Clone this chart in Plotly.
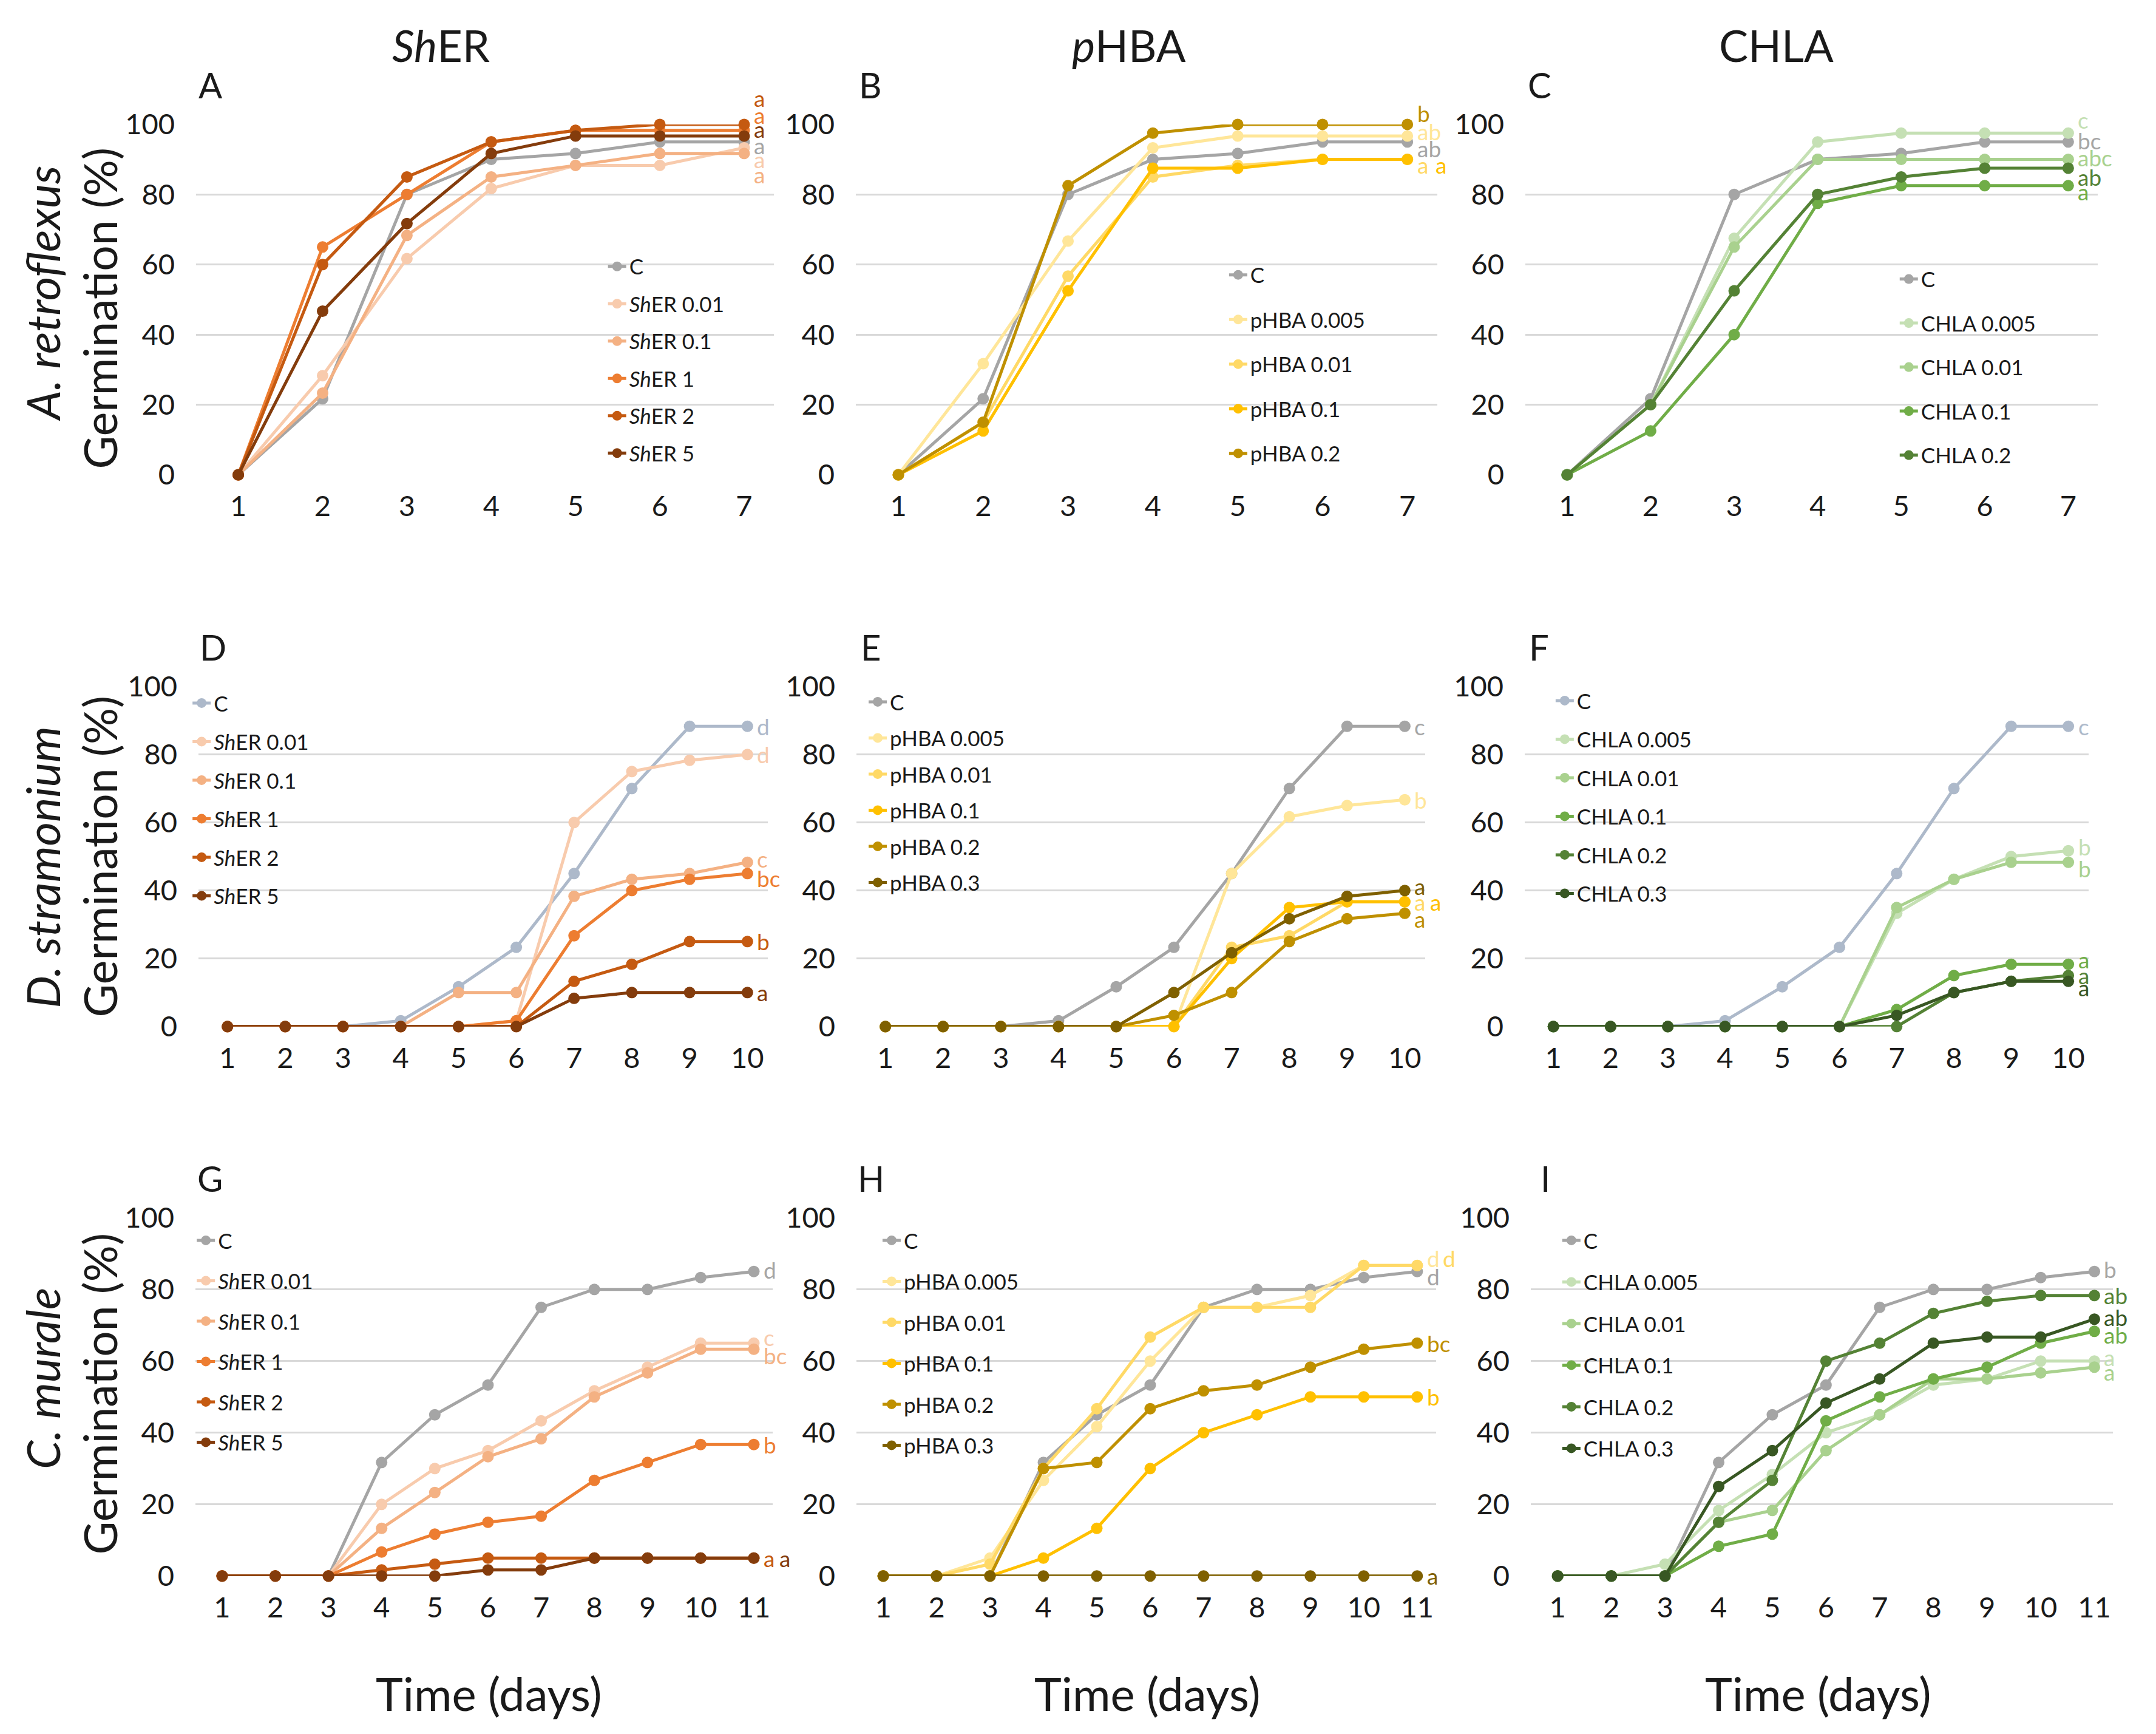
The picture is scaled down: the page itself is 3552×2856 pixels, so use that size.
import plotly.graph_objects as go

W, H = 3552, 2856
FONT = "Lato"
INK = "#1a1a1a"

# ---- data -------------------------------------------------------------
DAYS_7 = [1, 2, 3, 4, 5, 6, 7]
DAYS_10 = [1, 2, 3, 4, 5, 6, 7, 8, 9, 10]
DAYS_11 = [1, 2, 3, 4, 5, 6, 7, 8, 9, 10, 11]

SHER_NAMES = ["C", "<i>Sh</i>ER 0.01", "<i>Sh</i>ER 0.1", "<i>Sh</i>ER 1",
              "<i>Sh</i>ER 2", "<i>Sh</i>ER 5"]
PHBA_NAMES_B = ["C", "pHBA 0.005", "pHBA 0.01", "pHBA 0.1", "pHBA 0.2"]
PHBA_NAMES = ["C", "pHBA 0.005", "pHBA 0.01", "pHBA 0.1", "pHBA 0.2", "pHBA 0.3"]
CHLA_NAMES_C = ["C", "CHLA 0.005", "CHLA 0.01", "CHLA 0.1", "CHLA 0.2"]
CHLA_NAMES = ["C", "CHLA 0.005", "CHLA 0.01", "CHLA 0.1", "CHLA 0.2", "CHLA 0.3"]

SHER_COLORS = ["#A5A5A5", "#F8CBAD", "#F4B183", "#ED7D31", "#C55A11", "#843C0C"]
PHBA_COLORS = ["#A5A5A5", "#FFE699", "#FFD966", "#FFC000", "#BF9000", "#7F6000"]
CHLA_COLORS = ["#A5A5A5", "#C5E0B4", "#A9D18E", "#70AD47", "#548235", "#385723"]
BLUEGREY_C = "#ADB9CA"

# A. retroflexus, germination (%), series in name-list order
A_SHER = [
    [0, 21.7, 80, 90, 91.7, 95, 95],
    [0, 28.3, 61.7, 81.7, 88.3, 88.3, 93.3],
    [0, 23.3, 68.3, 85, 88.3, 91.7, 91.7],
    [0, 65, 80, 95, 98.3, 98.3, 98.3],
    [0, 60, 85, 95, 98.3, 100, 100],
    [0, 46.7, 71.7, 91.7, 96.7, 96.7, 96.7],
]
B_PHBA = [
    [0, 21.7, 80, 90, 91.7, 95, 95],
    [0, 31.7, 66.7, 93.3, 96.7, 96.7, 96.7],
    [0, 15, 56.7, 85, 88.3, 90, 90],
    [0, 12.5, 52.5, 87.5, 87.5, 90, 90],
    [0, 15, 82.5, 97.5, 100, 100, 100],
]
C_CHLA = [
    [0, 21.7, 80, 90, 91.7, 95, 95],
    [0, 20, 67.5, 95, 97.5, 97.5, 97.5],
    [0, 20, 65, 90, 90, 90, 90],
    [0, 12.5, 40, 77.5, 82.5, 82.5, 82.5],
    [0, 20, 52.5, 80, 85, 87.5, 87.5],
]
# D. stramonium
D_SHER = [
    [0, 0, 0, 1.7, 11.7, 23.3, 45, 70, 88.3, 88.3],
    [0, 0, 0, 0, 0, 1.7, 60, 75, 78.3, 80],
    [0, 0, 0, 0, 10, 10, 38.3, 43.3, 45, 48.3],
    [0, 0, 0, 0, 0, 1.7, 26.7, 40, 43.3, 45],
    [0, 0, 0, 0, 0, 0, 13.3, 18.3, 25, 25],
    [0, 0, 0, 0, 0, 0, 8.3, 10, 10, 10],
]
E_PHBA = [
    [0, 0, 0, 1.7, 11.7, 23.3, 45, 70, 88.3, 88.3],
    [0, 0, 0, 0, 0, 0, 45, 61.7, 65, 66.7],
    [0, 0, 0, 0, 0, 0, 23.3, 26.7, 36.7, 36.7],
    [0, 0, 0, 0, 0, 0, 20, 35, 36.7, 36.7],
    [0, 0, 0, 0, 0, 3.3, 10, 25, 31.7, 33.3],
    [0, 0, 0, 0, 0, 10, 21.7, 31.7, 38.3, 40],
]
F_CHLA = [
    [0, 0, 0, 1.7, 11.7, 23.3, 45, 70, 88.3, 88.3],
    [0, 0, 0, 0, 0, 0, 33.3, 43.3, 50, 51.7],
    [0, 0, 0, 0, 0, 0, 35, 43.3, 48.3, 48.3],
    [0, 0, 0, 0, 0, 0, 5, 15, 18.3, 18.3],
    [0, 0, 0, 0, 0, 0, 0, 10, 13.3, 15],
    [0, 0, 0, 0, 0, 0, 3.3, 10, 13.3, 13.3],
]
# C. murale
G_SHER = [
    [0, 0, 0, 31.7, 45, 53.3, 75, 80, 80, 83.3, 85],
    [0, 0, 0, 20, 30, 35, 43.3, 51.7, 58.3, 65, 65],
    [0, 0, 0, 13.3, 23.3, 33.3, 38.3, 50, 56.7, 63.3, 63.3],
    [0, 0, 0, 6.7, 11.7, 15, 16.7, 26.7, 31.7, 36.7, 36.7],
    [0, 0, 0, 1.7, 3.3, 5, 5, 5, 5, 5, 5],
    [0, 0, 0, 0, 0, 1.7, 1.7, 5, 5, 5, 5],
]
H_PHBA = [
    [0, 0, 0, 31.7, 45, 53.3, 75, 80, 80, 83.3, 85],
    [0, 0, 5, 26.7, 41.7, 60, 75, 75, 78.3, 86.7, 86.7],
    [0, 0, 3.3, 30, 46.7, 66.7, 75, 75, 75, 86.7, 86.7],
    [0, 0, 0, 5, 13.3, 30, 40, 45, 50, 50, 50],
    [0, 0, 0, 30, 31.7, 46.7, 51.7, 53.3, 58.3, 63.3, 65],
    [0, 0, 0, 0, 0, 0, 0, 0, 0, 0, 0],
]
I_CHLA = [
    [0, 0, 0, 31.7, 45, 53.3, 75, 80, 80, 83.3, 85],
    [0, 0, 3.3, 18.3, 28.3, 40, 45, 53.3, 55, 60, 60],
    [0, 0, 0, 15, 18.3, 35, 45, 55, 55, 56.7, 58.3],
    [0, 0, 0, 8.3, 11.7, 43.3, 50, 55, 58.3, 65, 68.3],
    [0, 0, 0, 15, 26.7, 60, 65, 73.3, 76.7, 78.3, 78.3],
    [0, 0, 0, 25, 35, 48.3, 55, 65, 66.7, 66.7, 71.7],
]

# significance letters at the last day, same order as the series
A_LETTERS = ["a", "a", "a", "a", "a", "a"]
B_LETTERS = ["ab", "ab", "a", "a", "b"]
C_LETTERS = ["bc", "c", "abc", "a", "ab"]
D_LETTERS = ["d", "d", "c", "bc", "b", "a"]
E_LETTERS = ["c", "b", "a", "a", "a", "a"]
F_LETTERS = ["c", "b", "b", "a", "a", "a"]
G_LETTERS = ["d", "c", "bc", "b", "a", "a"]
H_LETTERS = ["d", "d", "d", "b", "bc", "a"]
I_LETTERS = ["b", "a", "a", "ab", "ab", "ab"]

# ---- layout (page pixels) ---------------------------------------------
BOX_ROW1 = (200, 781)
BOX_ROW2 = (1132, 1696)
BOX_ROW3 = (2013, 2607)

# letter nudges (dx, dy) in px, per series
NUDGE = {
    "A": [(0, -6), (0, -19), (0, -35), (0, 25), (0, 43), (0, 11)],
    "B": [(0, -11), (0, 7), (0, -9), (30, -9), (0, 18)],
    "C": [(0, 2), (0, 22), (0, 3), (0, -10), (0, -14)],
    "D": [(0, 0), (0, 0), (0, 6), (0, -8), (0, 0), (0, 0)],
    "E": [(0, 0), (0, 0), (0, 0), (26, 0), (0, -9), (0, 7)],
    "F": [(0, 0), (0, 7), (0, -10), (0, 8), (0, 0), (0, -10)],
    "G": [(0, 3), (0, 10), (0, -10), (0, 0), (0, 0), (26, 0)],
    "H": [(0, -8), (0, 12), (26, 12), (0, 0), (0, 0), (0, 0)],
    "I": [(0, 4), (0, 6), (0, -8), (0, -6), (0, 0), (0, 3)],
}

PANELS = [
    # key, values, days, names, colors, letters, x-box, y-box, legend (x, first-item y, gap)
    ("A", A_SHER, DAYS_7, SHER_NAMES, SHER_COLORS, A_LETTERS, (324, 1279), BOX_ROW1, (1000, 437, 13)),
    ("B", B_PHBA, DAYS_7, PHBA_NAMES_B, PHBA_COLORS[:5], B_LETTERS, (1415, 2376), BOX_ROW1, (2027, 451, 25)),
    ("C", C_CHLA, DAYS_7, CHLA_NAMES_C, CHLA_COLORS[:5], C_LETTERS, (2522, 3468), BOX_ROW1, (3136, 458, 24)),
    ("D", D_SHER, DAYS_10, SHER_NAMES, [BLUEGREY_C] + SHER_COLORS[1:], D_LETTERS, (328, 1269), BOX_ROW2, (313, 1161, 15)),
    ("E", E_PHBA, DAYS_10, PHBA_NAMES, PHBA_COLORS, E_LETTERS, (1416, 2356), BOX_ROW2, (1431, 1159, 11)),
    ("F", F_CHLA, DAYS_10, CHLA_NAMES, [BLUEGREY_C] + CHLA_COLORS[1:], F_LETTERS, (2521, 3453), BOX_ROW2, (2567, 1157, 15)),
    ("G", G_SHER, DAYS_11, SHER_NAMES, SHER_COLORS, G_LETTERS, (323, 1277), BOX_ROW3, (320, 2052, 18)),
    ("H", H_PHBA, DAYS_11, PHBA_NAMES, PHBA_COLORS, H_LETTERS, (1416, 2374), BOX_ROW3, (1454, 2052, 19)),
    ("I", I_CHLA, DAYS_11, CHLA_NAMES, CHLA_COLORS, I_LETTERS, (2531, 3494), BOX_ROW3, (2578, 2052, 20)),
]


# page px -> paper, with a small calibration of the rendered page
def px_x(v):
    return ((v - 7.7) / 1.0037) / W


def px_y(v):
    return 1 - ((v - 32) / 0.987) / H


fig = go.Figure()
annotations = []
layout = {}

for k, (key, values, days, names, colors, letters, xbox, ybox, leg) in enumerate(PANELS, start=1):
    sfx = "" if k == 1 else str(k)
    legname = "legend" if k == 1 else f"legend{k}"
    for i, (name, series, col) in enumerate(zip(names, values, colors)):
        fig.add_trace(go.Scatter(
            x=days, y=series, name=name, mode="lines+markers",
            line=dict(color=col, width=5),
            marker=dict(color=col, size=19),
            xaxis=f"x{sfx}", yaxis=f"y{sfx}",
            legend=legname, legendgroup=f"{key}{i}",
            cliponaxis=False, hoverinfo="skip",
        ))
        dx, dy = NUDGE[key][i]
        annotations.append(dict(
            x=days[-1], y=series[-1], xref=f"x{sfx}", yref=f"y{sfx}",
            text=letters[i], showarrow=False, xanchor="left", yanchor="middle",
            xshift=14 + dx, yshift=dy,
            font=dict(family=FONT, size=37, color=col),
        ))

    layout[f"xaxis{sfx}"] = dict(
        domain=[px_x(xbox[0]), px_x(xbox[1])], anchor=f"y{sfx}",
        range=[0.5, days[-1] + 0.35], tickvals=days, showgrid=False,
        zeroline=False, showline=False, ticks="", ticklabelstandoff=20,
        tickfont=dict(family=FONT, size=47, color=INK),
    )
    layout[f"yaxis{sfx}"] = dict(
        domain=[px_y(ybox[1]), px_y(ybox[0])], anchor=f"x{sfx}",
        range=[0, 100], tickvals=[0, 20, 40, 60, 80, 100],
        showgrid=True, gridcolor="#D9D9D9", gridwidth=3,
        zeroline=False, showline=False, ticks="", ticklabelstandoff=34,
        tickfont=dict(family=FONT, size=47, color=INK),
    )
    lx, ly, gap = leg
    layout[legname] = dict(
        x=px_x(lx), y=px_y(ly - 31), xanchor="left", yanchor="top",
        bgcolor="rgba(0,0,0,0)", tracegroupgap=gap, traceorder="grouped",
        itemwidth=30, font=dict(family=FONT, size=35, color=INK),
    )
    # panel letter
    annotations.append(dict(
        x=px_x(xbox[0] + 24), y=px_y(ybox[0] - 66), xref="paper", yref="paper",
        text=key, showarrow=False, xanchor="center", yanchor="middle",
        font=dict(family=FONT, size=58, color=INK),
    ))

# column titles
for text, cx in [("<i>Sh</i>ER", 729), ("<i>p</i>HBA", 1867), ("CHLA", 2937)]:
    annotations.append(dict(
        x=px_x(cx), y=px_y(68), xref="paper", yref="paper", text=text,
        showarrow=False, xanchor="center", yanchor="middle",
        font=dict(family=FONT, size=72, color=INK),
    ))

# row titles (species + y axis title)
for species, cy_sp, cy_g in [("A. retroflexus", 481, 505), ("D. stramonium", 1432, 1414),
                             ("C. murale", 2280, 2305)]:
    annotations.append(dict(
        x=px_x(70), y=px_y(cy_sp), xref="paper", yref="paper",
        text=f"<i>{species}</i>", textangle=-90, showarrow=False,
        xanchor="center", yanchor="middle",
        font=dict(family=FONT, size=76, color=INK),
    ))
    annotations.append(dict(
        x=px_x(164), y=px_y(cy_g), xref="paper", yref="paper",
        text="Germination (%)", textangle=-90, showarrow=False,
        xanchor="center", yanchor="middle",
        font=dict(family=FONT, size=75, color=INK),
    ))

# x titles
for cx in [808, 1897, 3006]:
    annotations.append(dict(
        x=px_x(cx), y=px_y(2801), xref="paper", yref="paper",
        text="Time (days)", showarrow=False, xanchor="center", yanchor="middle",
        font=dict(family=FONT, size=76, color=INK),
    ))

fig.update_layout(
    width=W, height=H, margin=dict(l=0, r=0, t=0, b=0),
    paper_bgcolor="white", plot_bgcolor="white",
    showlegend=True, annotations=annotations, **layout,
)

fig.write_html("out.html")
